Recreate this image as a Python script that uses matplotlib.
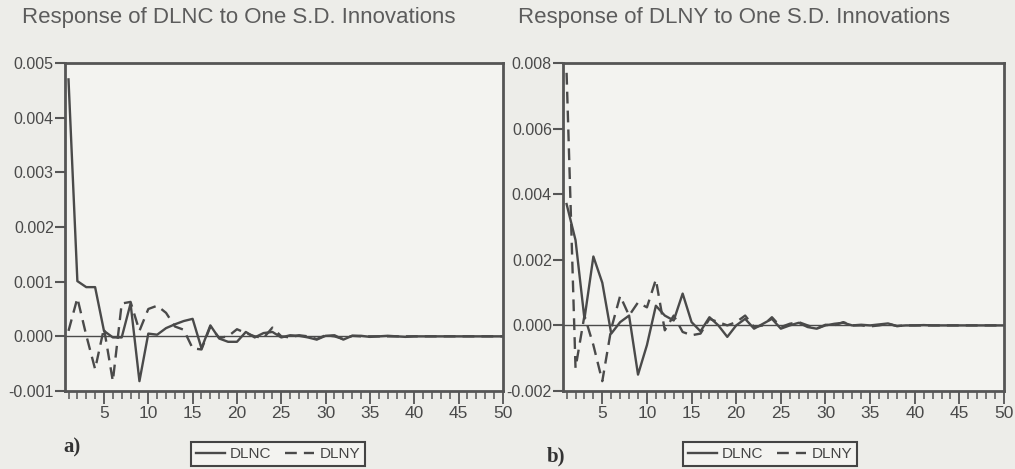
import matplotlib
matplotlib.use('Agg')
import matplotlib.pyplot as plt
from matplotlib.ticker import MultipleLocator
import numpy as np


periods = list(range(1, 51))

# Response of DLNC (panel a)
dlnc_a = [0.0047, 0.00101, 0.0009, 0.0009, 0.0001, -0.00002, -0.00002, 0.0006,
          -0.00082, 0.00005, 0.00003, 0.00015, 0.00022, 0.00028, 0.00032,
          -0.00022, 0.0002, -0.00004, -0.0001, -0.0001, 0.00008, -0.00002,
          0.00006, 0.00008, -0.00002, 0.00002, 0.00001, -0.00002, -0.00006,
          0.00001, 0.00002, -0.00006, 0.00001, 0.00001, -0.00001, 0.0,
          0.00001, 0.0, -0.00001, 0.0, 0.0, 0.0, 0.0, 0.0, 0.0, 0.0, 0.0,
          0.0, 0.0, 0.0]
dlny_a = [0.0001, 0.0007, 0.00002, -0.0006, 0.00015, -0.00082, 0.0006,
          0.00063, 0.0001, 0.0005, 0.00056, 0.00043, 0.00018, 0.00012,
          -0.00022, -0.00024, 0.00018, -0.00003, 0.0, 0.00013, 0.00006, 0.0,
          -0.00003, 0.00016, 0.0, -0.00002, 0.00002, 0.0, -0.00005, 0.00002,
          0.0, -0.00005, 0.00001, 0.0, 0.0, 0.0, 0.0, 0.0, 0.0, 0.0, 0.0, 0.0,
          0.0, 0.0, 0.0, 0.0, 0.0, 0.0, 0.0, 0.0]

# Response of DLNY (panel b)
dlnc_b = [0.0037, 0.0026, 0.0002, 0.0021, 0.0013, -0.00025, 0.0001, 0.0003,
          -0.0015, -0.0006, 0.0006, 0.0003, 0.00015, 0.00097, 0.0001,
          -0.00018, 0.00025, 0.0, -0.00035, 0.0, 0.0002, -0.0001, 0.00005,
          0.0002, -0.0001, 0.0, 0.00008, -0.00005, -0.0001, 0.0, 0.00005,
          0.00008, 0.0, 0.00002, 0.0, 0.00003, 0.00006, -0.00002, 0.0, 0.0,
          0.00001, 0.0, 0.0, 0.0, 0.0, 0.0, 0.0, 0.0, 0.0, 0.0]
dlny_b = [0.0077, -0.0013, 0.0003, -0.0006, -0.0017, -0.0001, 0.0009, 0.0003,
          0.0007, 0.00055, 0.0014, -0.00015, 0.0003, -0.0002, -0.0003,
          -0.00025, 0.0002, 0.0001, 0.0, 0.0001, 0.0003, -0.00005, 0.0,
          0.00025, -0.00005, 0.00005, 0.0001, 0.0, -0.0001, 0.00002, 0.0,
          0.0001, 0.0, 0.0, -0.00003, 0.0, 0.00005, -0.00002, 0.0, 0.0, 0.0,
          0.0, 0.0, 0.0, 0.0, 0.0, 0.0, 0.0, 0.0, 0.0]

titles = ['Response of DLNC to One S.D. Innovations',
          'Response of DLNY to One S.D. Innovations']
series_names = ['DLNC', 'DLNY']
yticks_a = [-0.001, 0.0, 0.001, 0.002, 0.003, 0.004, 0.005]
yticks_b = [-0.002, 0.0, 0.002, 0.004, 0.006, 0.008]
xticks = [5, 10, 15, 20, 25, 30, 35, 40, 45, 50]

BG = '#edede9'
PANEL = '#f3f3f0'
INK = '#4a4a4a'


def panel(fig, rect, solid, dashed, yticks):
    ax = fig.add_axes(rect)
    ax.set_facecolor(PANEL)
    ax.axhline(0, color=INK, lw=1.0)
    l1, = ax.plot(periods, solid, color=INK, lw=1.7)
    l2, = ax.plot(periods, dashed, color=INK, lw=1.7, dashes=(5, 3))
    ax.set_xlim(0.6, 50)
    ax.set_ylim(yticks[0], yticks[-1])
    ax.set_yticks(yticks)
    ax.set_yticklabels(['{:.3f}'.format(v) for v in yticks])
    ax.set_xticks(xticks)
    ax.xaxis.set_minor_locator(MultipleLocator(1))
    for s in ax.spines.values():
        s.set_linewidth(2.0)
        s.set_color('#555555')
    ax.tick_params(axis='y', length=7, width=1.5, color='#555555', pad=1,
                   labelsize=11.5, labelcolor='#4a4a4a')
    ax.tick_params(axis='x', which='major', length=9, width=1.3,
                   color='#555555', pad=2, labelsize=12.5, labelcolor='#4a4a4a')
    ax.tick_params(axis='x', which='minor', length=6, width=1.1,
                   color='#555555')
    for lab in ax.get_xticklabels() + ax.get_yticklabels():
        lab.set_family('Liberation Sans')
    return ax, [l1, l2]


fig = plt.figure(figsize=(10.15, 4.69), dpi=100)
fig.patch.set_facecolor(BG)

ax_a, h_a = panel(fig, [0.064, 0.1663, 0.4315, 0.6994], dlnc_a, dlny_a, yticks_a)
ax_b, h_b = panel(fig, [0.5547, 0.1663, 0.4345, 0.6994], dlnc_b, dlny_b, yticks_b)

fig.text(22 / 1015, 1 - 18 / 469, titles[0], family='Liberation Sans',
         fontsize=16, color='#5c5c5c', va='center', ha='left')
fig.text(518 / 1015, 1 - 18 / 469, titles[1], family='Liberation Sans',
         fontsize=16, color='#5c5c5c', va='center', ha='left')

fig.text(72 / 1015, 1 - 447 / 469, 'a)', family='Liberation Serif',
         fontweight='bold', fontsize=15, color='#333333', ha='center', va='center')
fig.text(556 / 1015, 1 - 456 / 469, 'b)', family='Liberation Serif',
         fontweight='bold', fontsize=15, color='#333333', ha='center', va='center')

for handles, cx in [(h_a, 278), (h_b, 770)]:
    leg = fig.legend(handles, series_names, loc='center',
                     bbox_to_anchor=(cx / 1015, 1 - 454 / 469), ncol=2,
                     frameon=True, fancybox=False, edgecolor='#444444',
                     facecolor=PANEL, framealpha=1, handlelength=1.9,
                     columnspacing=0.9, handletextpad=0.35, borderpad=0.3,
                     prop={'family': 'Liberation Sans', 'size': 11})
    leg.get_frame().set_linewidth(1.5)
    for t in leg.get_texts():
        t.set_color('#444444')

plt.savefig('out.png', dpi=100, facecolor=fig.get_facecolor())
